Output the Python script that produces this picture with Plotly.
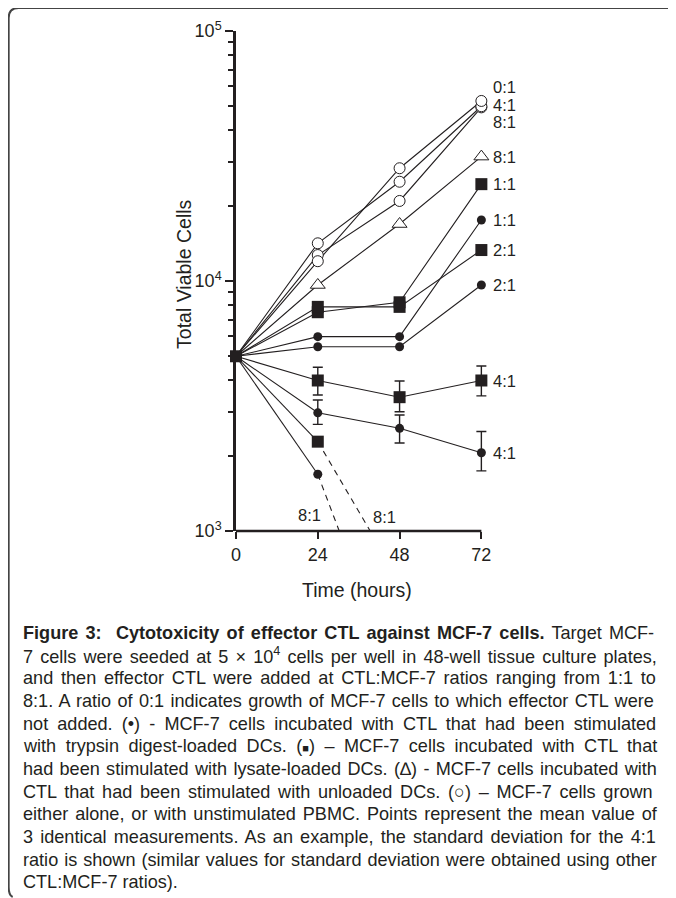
import plotly.graph_objects as go

# ---------------- data ----------------
hours = [0, 24, 48, 72]

open_a = [5000, 12000, 28250, 52500]   # 0:1
open_b = [5000, 14150, 24950, 50000]   # 4:1
open_c = [5000, 12700, 20900, 49500]   # 8:1
tri_8 = [5000, 9640, 16900, 31450]
sq_1 = [5000, 7500, 8220, 24400]
sq_2 = [5000, 7880, 7880, 13300]
sq_4 = [5000, 4000, 3430, 4000]
sq_4_hi = [5000, 4520, 3980, 4570]
sq_4_lo = [5000, 3500, 3000, 3470]
ci_1 = [5000, 5990, 5990, 17540]
ci_2 = [5000, 5460, 5460, 9640]
ci_4 = [5000, 2970, 2575, 2056]
ci_4_hi = [5000, 3340, 2910, 2500]
ci_4_lo = [5000, 2670, 2250, 1740]
sq_8 = [5000, 2277]
sq_8_trend = [2277, 630]      # dashed, drops below axis
ci_8 = [5000, 1686]
ci_8_trend = [1686, 230]      # dashed, drops below axis

end_labels = ["0:1", "4:1", "8:1", "8:1", "1:1", "1:1", "2:1", "2:1", "4:1", "4:1"]
end_label_y_px = [87, 105, 122, 157, 184, 220, 250, 285, 381, 453]
low_labels = ["8:1", "8:1"]

# caption lines as (text, style) segments; style: r=regular, b=bold, sup, sq=small square
caption = [
    [("Figure 3:  Cytotoxicity of effector CTL against MCF-7 cells.", "b"), (" Target MCF-", "r")],
    [("7 cells were seeded at 5 × 10", "r"), ("4", "sup"),
     (" cells per well in 48-well tissue culture plates,", "r")],
    [("and then effector CTL were added at CTL:MCF-7 ratios ranging from 1:1 to", "r")],
    [("8:1. A ratio of 0:1 indicates growth of MCF-7 cells to which effector CTL were", "r")],
    [("not added. (•) - MCF-7 cells incubated with CTL that had been stimulated", "r")],
    [("with trypsin digest-loaded DCs. (", "r"), ("■", "sq"),
     (") – MCF-7 cells incubated with CTL that", "r")],
    [("had been stimulated with lysate-loaded DCs. (∆) - MCF-7 cells incubated with", "r")],
    [("CTL that had been stimulated with unloaded DCs. (○) – MCF-7 cells grown", "r")],
    [("either alone, or with unstimulated PBMC. Points represent the mean value of", "r")],
    [("3 identical measurements. As an example, the standard deviation for the 4:1", "r")],
    [("ratio is shown (similar values for standard deviation were obtained using other", "r")],
    [("CTL:MCF-7 ratios).", "r")],
]

# ---------------- layout helpers ----------------
OFF = 8                     # page body margin of the browser
W, H = 676 - OFF, 898 - OFF
L, R, T, B = 236, 481, 31, 531   # reference pixel positions of 0h, 72h, 1e5, 1e3
X_MAX = 76                        # a little room right of 72 h for the end error bars
RP = L + (R - L) * X_MAX / 72
INK = "#231f20"
FONT = "Liberation Sans, Arial, sans-serif"
CAP_SIZE = 18.1
CAP_LEFT, CAP_RIGHT = 21, 655


def px(x):
    return (x - L) / (RP - L)


def py(y):
    return (B - y) / (B - T)


# approximate Arial / Liberation Sans advance widths (1/1000 em) for justification
_REG = {" ": 278, "(": 333, ")": 333, ",": 278, "-": 333, ".": 278, ":": 278,
        "×": 584, "•": 350, "–": 556, "∆": 612, "○": 800,
        "A": 667, "B": 667, "C": 722, "D": 722, "E": 667, "F": 611, "G": 778, "H": 722,
        "I": 278, "J": 500, "K": 667, "L": 556, "M": 833, "N": 722, "O": 778, "P": 667,
        "Q": 778, "R": 722, "S": 667, "T": 611, "U": 722, "V": 667, "W": 944,
        "a": 556, "b": 556, "c": 500, "d": 556, "e": 556, "f": 278, "g": 556, "h": 556,
        "i": 222, "j": 222, "k": 500, "l": 222, "m": 833, "n": 556, "o": 556, "p": 556,
        "q": 556, "r": 333, "s": 500, "t": 278, "u": 556, "v": 500, "w": 722, "x": 500,
        "y": 500, "z": 500}
_BOLD = dict(_REG)
_BOLD.update({" ": 278, ":": 333, "A": 722, "B": 722, "L": 611, "a": 556, "c": 556,
              "e": 556, "f": 333, "g": 611, "h": 611, "i": 278, "l": 278, "n": 611,
              "o": 611, "r": 389, "s": 556, "t": 333, "u": 611, "x": 556, "y": 556})


def seg_width(text, style):
    if style == "sq":
        return 11 * 0.6
    table = _BOLD if style == "b" else _REG
    scale = 0.7 if style == "sup" else 1.0
    return sum(table.get(ch, 556) for ch in text) / 1000 * CAP_SIZE * scale


def render_line(segs, justify):
    html = ""
    for text, style in segs:
        if style == "b":
            html += "<b>" + text + "</b>"
        elif style == "sup":
            html += "<sup>" + text + "</sup>"
        elif style == "sq":
            html += '<span style="font-size:11px">' + text + "</span>"
        else:
            html += text
    if not justify:
        return html
    width = sum(seg_width(t, s) for t, s in segs)
    n_space = sum(t.count(" ") for t, s in segs)
    extra = max(0.0, (CAP_RIGHT - CAP_LEFT - width) / max(n_space, 1))
    return '<span style="word-spacing:%.2fpx">' % extra + html + "</span>"


fig = go.Figure()

line_sets = [open_a, open_b, open_c, tri_8, sq_1, sq_2, sq_4, ci_1, ci_2, ci_4]
for s in line_sets:
    fig.add_trace(go.Scatter(x=hours, y=s, mode="lines",
                             line=dict(color=INK, width=1.1), showlegend=False))
for s in [sq_8, ci_8]:
    fig.add_trace(go.Scatter(x=hours[:2], y=s, mode="lines",
                             line=dict(color=INK, width=1.1), showlegend=False))
for s in [sq_8_trend, ci_8_trend]:
    fig.add_trace(go.Scatter(x=hours[1:3], y=s, mode="lines",
                             line=dict(color=INK, width=1.1, dash="6px,5px"),
                             showlegend=False))

# error bars (4:1)
for s, hi, lo in [(sq_4, sq_4_hi, sq_4_lo), (ci_4, ci_4_hi, ci_4_lo)]:
    fig.add_trace(go.Scatter(
        x=hours[1:], y=s[1:], mode="markers", marker=dict(size=1, color=INK, opacity=0),
        error_y=dict(type="data", symmetric=False,
                     array=[h - v for h, v in zip(hi[1:], s[1:])],
                     arrayminus=[v - l for l, v in zip(lo[1:], s[1:])],
                     color=INK, thickness=1.4, width=5),
        showlegend=False, cliponaxis=False))

open_marker = dict(symbol="circle", size=11, color="white", line=dict(color=INK, width=1))
for s in [open_c, open_b, open_a]:
    fig.add_trace(go.Scatter(x=hours[1:], y=s[1:], mode="markers", marker=open_marker,
                             showlegend=False, cliponaxis=False))
fig.add_trace(go.Scatter(x=hours[1:], y=tri_8[1:], mode="markers",
                         marker=dict(symbol="triangle-up", size=13, color="white",
                                     line=dict(color=INK, width=1)),
                         showlegend=False, cliponaxis=False))
sq_marker = dict(symbol="square", size=12, color=INK, line=dict(width=0))
for s in [sq_1, sq_2, sq_4]:
    fig.add_trace(go.Scatter(x=hours[1:], y=s[1:], mode="markers", marker=sq_marker,
                             showlegend=False, cliponaxis=False))
fig.add_trace(go.Scatter(x=hours[1:2], y=sq_8[1:], mode="markers", marker=sq_marker,
                         showlegend=False, cliponaxis=False))
ci_marker = dict(symbol="circle", size=9, color=INK, line=dict(width=0))
for s in [ci_1, ci_2, ci_4]:
    fig.add_trace(go.Scatter(x=hours[1:], y=s[1:], mode="markers", marker=ci_marker,
                             showlegend=False, cliponaxis=False))
fig.add_trace(go.Scatter(x=hours[1:2], y=ci_8[1:], mode="markers", marker=ci_marker,
                         showlegend=False, cliponaxis=False))
# common start point
fig.add_trace(go.Scatter(x=hours[:1], y=sq_1[:1], mode="markers", marker=sq_marker,
                         showlegend=False, cliponaxis=False))

annotations = []
for lab, ypix in zip(end_labels, end_label_y_px):
    annotations.append(dict(text=lab, x=px(491), y=py(ypix), xref="paper", yref="paper",
                            xanchor="left", yanchor="middle", showarrow=False,
                            font=dict(family=FONT, size=16.5, color=INK)))
for lab, xpix, ypix in zip(low_labels, [309, 384], [515, 517]):
    annotations.append(dict(text=lab, x=px(xpix), y=py(ypix), xref="paper", yref="paper",
                            xanchor="center", yanchor="middle", showarrow=False,
                            font=dict(family=FONT, size=16.5, color=INK)))
annotations.append(dict(text="Time (hours)", x=px(357), y=py(590), xref="paper", yref="paper",
                        xanchor="center", yanchor="middle", showarrow=False,
                        font=dict(family=FONT, size=19.5, color=INK)))
annotations.append(dict(text="Total Viable Cells", x=px(184), y=py(274), xref="paper",
                        yref="paper", textangle=-90, xanchor="center", yanchor="middle",
                        showarrow=False, font=dict(family=FONT, size=19.5, color=INK)))
for i, segs in enumerate(caption):
    annotations.append(dict(text=render_line(segs, i < len(caption) - 1),
                            x=px(CAP_LEFT), y=py(633 + i * 22.65), xref="paper",
                            yref="paper", xanchor="left", yanchor="middle", showarrow=False,
                            align="left",
                            font=dict(family="Liberation Sans, Arial", size=CAP_SIZE,
                                      color="#231f20")))

# frame (rounded corners top-left and bottom-left)
frame = (f"M {px(676)},{py(8)} L {px(19)},{py(8)} Q {px(9)},{py(8)} {px(9)},{py(18)} "
         f"L {px(9)},{py(887)} Q {px(9)},{py(895)} {px(13)},{py(897)}")
shapes = [
    dict(type="path", path=frame, xref="paper", yref="paper",
         line=dict(color="#444", width=2)),
    # x axis line, only from 0 to 72 h
    dict(type="line", xref="x", yref="paper", x0=hours[0], x1=hours[-1], y0=0, y1=0,
         line=dict(color=INK, width=2.5)),
]

minor_vals = [m * 10 ** e for e in (3, 4) for m in range(2, 10)]

fig.update_layout(
    width=W, height=H, margin=dict(l=L - OFF, r=676 - RP, t=T - OFF, b=898 - B, pad=0),
    paper_bgcolor="white", plot_bgcolor="white",
    annotations=annotations, shapes=shapes,
    xaxis=dict(range=[0, X_MAX], tickvals=hours, ticks="outside", ticklen=7, tickwidth=2,
               tickcolor=INK, showline=False, showgrid=False, zeroline=False,
               tickfont=dict(family=FONT, size=18, color=INK)),
    yaxis=dict(type="log", range=[3, 5], tickvals=[1e3, 1e4, 1e5],
               ticktext=["10<sup>3</sup>", "10<sup>4</sup>", "10<sup>5</sup>"],
               ticks="outside", ticklen=8, tickwidth=2, tickcolor=INK,
               showline=True, linecolor=INK, linewidth=2.5, showgrid=False, zeroline=False,
               tickfont=dict(family=FONT, size=18, color=INK),
               minor=dict(tickvals=minor_vals, ticks="outside", ticklen=5, tickwidth=1.5,
                          tickcolor=INK, showgrid=False)),
)

fig.write_html("out.html")
